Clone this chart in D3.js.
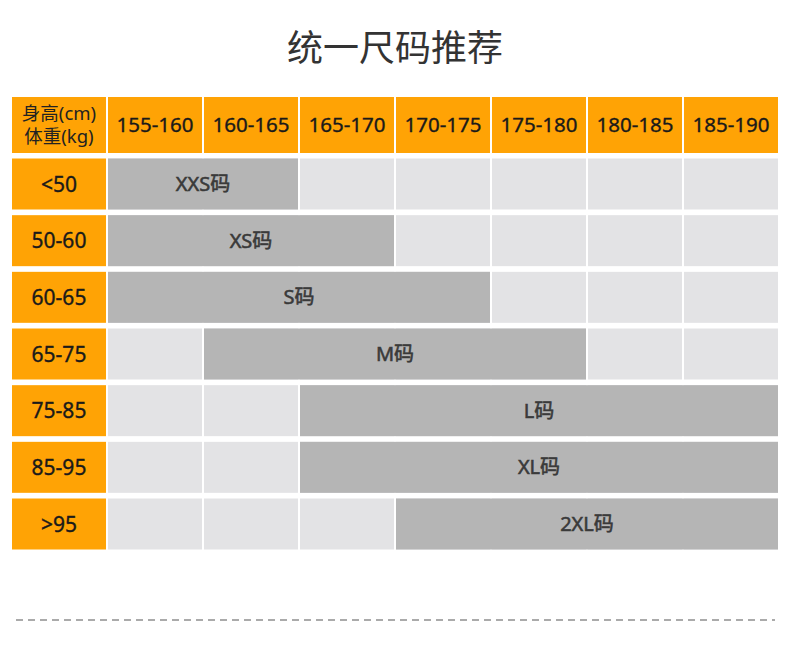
<!DOCTYPE html>
<html>
<head>
<meta charset="utf-8">
<script src="https://cdn.jsdelivr.net/npm/d3@7"></script>
<style>
  html, body { margin: 0; padding: 0; background: #fff; }
  svg { display: block; }
</style>
</head>
<body>
<svg id="chart" width="790" height="658"></svg>
<script>
// ---- data ----
const title = "统一尺码推荐";
const cornerLines = ["身高(cm)", "体重(kg)"];
const heights = ["155-160", "160-165", "165-170", "170-175", "175-180", "180-185", "185-190"];
const weights = ["<50", "50-60", "60-65", "65-75", "75-85", "85-95", ">95"];
const sizes = ["XXS码", "XS码", "S码", "M码", "L码", "XL码", "2XL码"];
const spanStart = ["155-160", "155-160", "155-160", "160-165", "165-170", "165-170", "170-175"];
const spanEnd   = ["160-165", "165-170", "170-175", "175-180", "185-190", "185-190", "185-190"];

// ---- layout ----
const svg = d3.select("#chart");
const orange = "#ffa305", light = "#e3e3e5", dark = "#b5b5b5";
const font = "'Noto Sans', 'Noto Sans CJK SC', sans-serif";

const cols = ["__label__", ...heights];
const x = d3.scaleBand().domain(cols).range([12, 778]).paddingInner(0.021);
const y = d3.scaleBand().domain(weights).range([158.5, 549.5]).paddingInner(0.1);
const headerTop = 97, headerH = 56;

// title
svg.append("text")
  .attr("x", 395).attr("y", 61)
  .attr("text-anchor", "middle")
  .attr("font-family", font)
  .attr("font-size", 36)
  .attr("fill", "#333")
  .text(title);

// header row
svg.selectAll("rect.hdr").data(cols).join("rect")
  .attr("class", "hdr")
  .attr("x", d => x(d)).attr("y", headerTop)
  .attr("width", x.bandwidth()).attr("height", headerH)
  .attr("fill", orange);

svg.selectAll("text.hdr").data(heights).join("text")
  .attr("class", "hdr")
  .attr("x", d => x(d) + x.bandwidth() / 2)
  .attr("y", headerTop + headerH / 2 + 7)
  .attr("text-anchor", "middle")
  .attr("font-family", font).attr("font-size", 20.5)
  .attr("fill", "#1a1a1a").attr("stroke", "#1a1a1a").attr("stroke-width", 0.35)
  .text(d => d);

svg.selectAll("text.corner").data(cornerLines).join("text")
  .attr("class", "corner")
  .attr("x", x("__label__") + x.bandwidth() / 2)
  .attr("y", (d, i) => headerTop + 23 + i * 23)
  .attr("text-anchor", "middle")
  .attr("font-family", font).attr("font-size", 18.5)
  .attr("fill", "#222")
  .text(d => d);

// row labels
svg.selectAll("rect.rowlab").data(weights).join("rect")
  .attr("class", "rowlab")
  .attr("x", x("__label__")).attr("y", d => y(d))
  .attr("width", x.bandwidth()).attr("height", y.bandwidth())
  .attr("fill", orange);

svg.selectAll("text.rowlab").data(weights).join("text")
  .attr("class", "rowlab")
  .attr("x", x("__label__") + x.bandwidth() / 2)
  .attr("y", d => y(d) + y.bandwidth() / 2 + 7.5)
  .attr("text-anchor", "middle")
  .attr("font-family", font).attr("font-size", 21)
  .attr("fill", "#1a1a1a").attr("stroke", "#1a1a1a").attr("stroke-width", 0.35)
  .text(d => d);

// background cells
const cells = [];
weights.forEach(w => heights.forEach(h => cells.push({ w, h })));
svg.selectAll("rect.cell").data(cells).join("rect")
  .attr("class", "cell")
  .attr("x", d => x(d.h)).attr("y", d => y(d.w))
  .attr("width", x.bandwidth()).attr("height", y.bandwidth())
  .attr("fill", light);

// size spans
const spans = weights.map((w, i) => ({ w, size: sizes[i], s: spanStart[i], e: spanEnd[i] }));
svg.selectAll("rect.span").data(spans).join("rect")
  .attr("class", "span")
  .attr("x", d => x(d.s)).attr("y", d => y(d.w))
  .attr("width", d => x(d.e) + x.bandwidth() - x(d.s))
  .attr("height", y.bandwidth())
  .attr("fill", dark);

svg.selectAll("text.span").data(spans).join("text")
  .attr("class", "span")
  .attr("x", d => (x(d.s) + x(d.e) + x.bandwidth()) / 2)
  .attr("y", d => y(d.w) + y.bandwidth() / 2 + 7)
  .attr("text-anchor", "middle")
  .attr("font-family", font).attr("font-size", 20)
  .attr("fill", "#3a3a3a").attr("stroke", "#3a3a3a").attr("stroke-width", 0.55)
  .text(d => d.size);

// dashed separator
svg.append("line")
  .attr("x1", 16).attr("x2", 775)
  .attr("y1", 620).attr("y2", 620)
  .attr("stroke", "#aaaaaa").attr("stroke-width", 2)
  .attr("stroke-dasharray", "7 5");
</script>
</body>
</html>
